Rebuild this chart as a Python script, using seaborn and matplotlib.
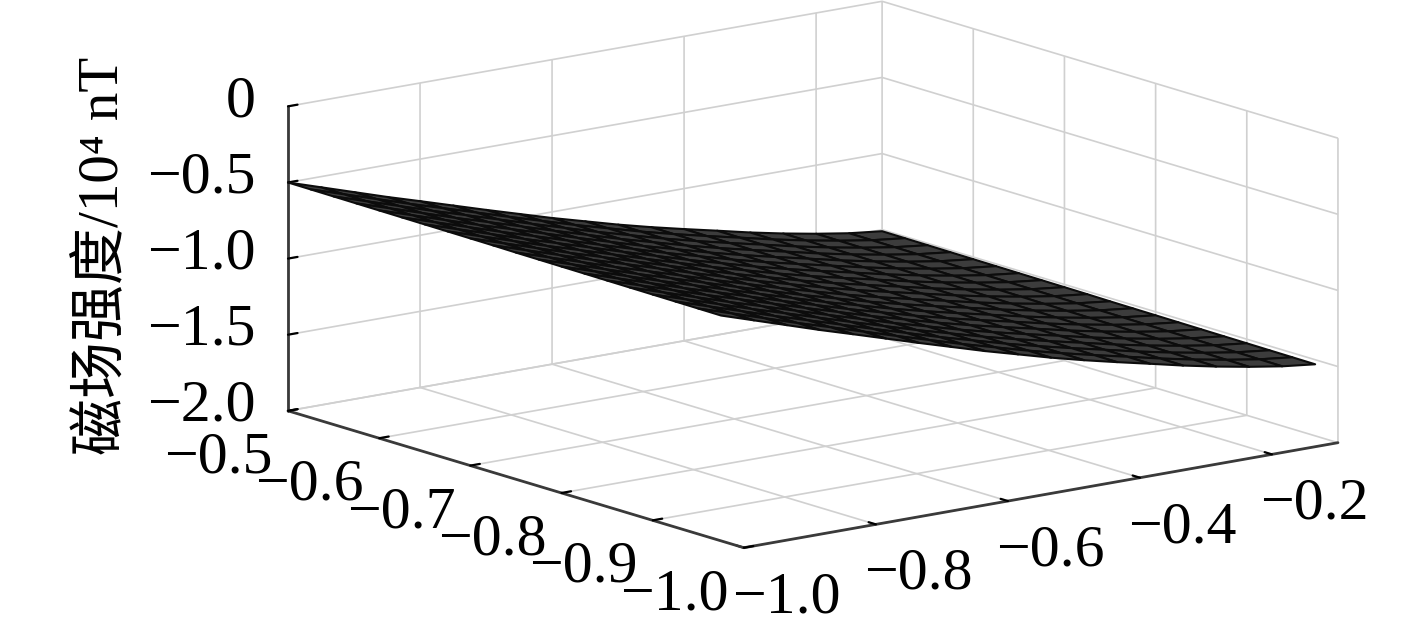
import numpy as np
import matplotlib
matplotlib.use("Agg")
import matplotlib.pyplot as plt
from matplotlib.transforms import Affine2D
import seaborn as sns

a_values = [-0.5, -0.525, -0.55, -0.575, -0.6, -0.625, -0.65, -0.675, -0.7, -0.725,
            -0.75, -0.775, -0.8, -0.825, -0.85, -0.875, -0.9, -0.925, -0.95, -0.975]
b_values = [-1.0, -0.95, -0.9, -0.85, -0.8, -0.75, -0.7, -0.65, -0.6, -0.55,
            -0.5, -0.45, -0.4, -0.35, -0.3, -0.25, -0.2, -0.15, -0.1]
field = [
 [-.500,-.570,-.640,-.710,-.776,-.843,-.910,-.975,-1.040,-1.100,-1.160,-1.215,-1.266,-1.315,-1.365,-1.410,-1.450,-1.485,-1.510],
 [-.501,-.571,-.641,-.711,-.777,-.844,-.911,-.976,-1.041,-1.101,-1.161,-1.216,-1.267,-1.316,-1.366,-1.411,-1.451,-1.486,-1.511],
 [-.502,-.572,-.642,-.712,-.778,-.845,-.912,-.977,-1.042,-1.102,-1.162,-1.217,-1.268,-1.317,-1.367,-1.412,-1.452,-1.487,-1.512],
 [-.503,-.573,-.643,-.713,-.779,-.846,-.913,-.978,-1.043,-1.103,-1.163,-1.218,-1.269,-1.318,-1.368,-1.413,-1.453,-1.488,-1.513],
 [-.504,-.574,-.644,-.714,-.780,-.847,-.914,-.979,-1.044,-1.104,-1.164,-1.219,-1.270,-1.319,-1.369,-1.414,-1.454,-1.489,-1.514],
 [-.505,-.575,-.645,-.715,-.781,-.848,-.915,-.980,-1.045,-1.105,-1.165,-1.220,-1.271,-1.320,-1.370,-1.415,-1.455,-1.490,-1.515],
 [-.506,-.576,-.646,-.716,-.782,-.849,-.916,-.981,-1.046,-1.106,-1.166,-1.221,-1.272,-1.321,-1.371,-1.416,-1.456,-1.491,-1.516],
 [-.507,-.577,-.647,-.717,-.783,-.850,-.917,-.982,-1.047,-1.107,-1.167,-1.222,-1.273,-1.322,-1.372,-1.417,-1.457,-1.492,-1.517],
 [-.508,-.578,-.648,-.718,-.784,-.851,-.918,-.983,-1.048,-1.108,-1.168,-1.223,-1.274,-1.323,-1.373,-1.418,-1.458,-1.493,-1.518],
 [-.509,-.579,-.649,-.719,-.785,-.852,-.919,-.984,-1.049,-1.109,-1.169,-1.224,-1.275,-1.324,-1.374,-1.419,-1.459,-1.494,-1.519],
 [-.511,-.581,-.651,-.721,-.787,-.854,-.921,-.986,-1.051,-1.111,-1.171,-1.226,-1.277,-1.326,-1.376,-1.421,-1.461,-1.496,-1.521],
 [-.512,-.582,-.652,-.722,-.788,-.855,-.922,-.987,-1.052,-1.112,-1.172,-1.227,-1.278,-1.327,-1.377,-1.422,-1.462,-1.497,-1.522],
 [-.513,-.583,-.653,-.723,-.789,-.856,-.923,-.988,-1.053,-1.113,-1.173,-1.228,-1.279,-1.328,-1.378,-1.423,-1.463,-1.498,-1.523],
 [-.514,-.584,-.654,-.724,-.790,-.857,-.924,-.989,-1.054,-1.114,-1.174,-1.229,-1.280,-1.329,-1.379,-1.424,-1.464,-1.499,-1.524],
 [-.515,-.585,-.655,-.725,-.791,-.858,-.925,-.990,-1.055,-1.115,-1.175,-1.230,-1.281,-1.330,-1.380,-1.425,-1.465,-1.500,-1.525],
 [-.516,-.586,-.656,-.726,-.792,-.859,-.926,-.991,-1.056,-1.116,-1.176,-1.231,-1.282,-1.331,-1.381,-1.426,-1.466,-1.501,-1.526],
 [-.517,-.587,-.657,-.727,-.793,-.860,-.927,-.992,-1.057,-1.117,-1.177,-1.232,-1.283,-1.332,-1.382,-1.427,-1.467,-1.502,-1.527],
 [-.518,-.588,-.658,-.728,-.794,-.861,-.928,-.993,-1.058,-1.118,-1.178,-1.233,-1.284,-1.333,-1.383,-1.428,-1.468,-1.503,-1.528],
 [-.519,-.589,-.659,-.729,-.795,-.862,-.929,-.994,-1.059,-1.119,-1.179,-1.234,-1.285,-1.334,-1.384,-1.429,-1.469,-1.504,-1.529],
 [-.520,-.590,-.660,-.730,-.796,-.863,-.930,-.995,-1.060,-1.120,-1.180,-1.235,-1.286,-1.335,-1.385,-1.430,-1.470,-1.505,-1.530],
]
b_ticks = [-1.0, -0.8, -0.6, -0.4, -0.2]
b_labels = ["−1.0", "−0.8", "−0.6", "−0.4", "−0.2"]
a_ticks = [-1.0, -0.9, -0.8, -0.7, -0.6, -0.5]
a_labels = ["−1.0", "−0.9", "−0.8", "−0.7", "−0.6", "−0.5"]
z_ticks = [-2.0, -1.5, -1.0, -0.5, 0.0]
z_labels = ["−2.0", "−1.5", "−1.0", "−0.5", "0"]
y_title = "磁场强度/10⁴ nT"

sns.set_theme(style="white")
plt.rcParams["font.family"] = ["Liberation Serif", "Noto Sans CJK SC", "DejaVu Sans"]

W, H = 1417, 630
fig = plt.figure(figsize=(W / 100, H / 100), dpi=100, facecolor="white")
ax = fig.add_axes([262.5 / W, -195 / H, 1072 / W, 1072 / H], projection="3d", proj_type="ortho")
ax.patch.set_alpha(0)
ax.view_init(elev=13.32, azim=232.5)
ax.set_box_aspect((749, 749, 313))

B, A = np.meshgrid(b_values, a_values)
Z = np.array(field)
ax.plot_surface(B, A, Z, rstride=1, cstride=1, color="#3c3c3c", shade=False,
                edgecolor="#0c0c0c", linewidth=1.5, antialiased=True)

ax.set_xlim(-1.0, -0.1, view_margin=0)
ax.set_ylim(-1.0, -0.5, view_margin=0)
ax.set_zlim(-2.0, 0.0, view_margin=0)
ax.set_xticks(b_ticks, b_labels, fontsize=43)
ax.set_yticks(a_ticks, a_labels, fontsize=43)
ax.set_zticks(z_ticks, z_labels, fontsize=43)
ax.tick_params(axis="both", pad=16, colors="black")
ax.tick_params(axis="z", pad=16, colors="black")

for axis in (ax.xaxis, ax.yaxis, ax.zaxis):
    axis.set_pane_color((1, 1, 1, 0))
    axis.pane.set_edgecolor("#c4c4c4")
    axis.pane.set_linewidth(1.2)
    axis.line.set_color("#3a3a3a")
    axis.line.set_linewidth(2.0)
    axis._axinfo["grid"].update(color="#d0d0d0", linewidth=1.2, linestyle="-")
    axis._axinfo["tick"].update(inward_factor=0.0, outward_factor=0.2,
                                linewidth={True: 1.6, False: 1.0}, color="#3a3a3a")
ax.grid(True)


def shift_labels(axis, dx, dy, ha="center"):
    """Nudge the native tick labels by a fixed pixel offset."""
    for tick in axis.get_major_ticks():
        lab = tick.label1
        lab.set_ha(ha)
        lab.set_transform(ax.transData + Affine2D().translate(dx, dy))
        lab.set_transform = lambda _t: None


shift_labels(ax.xaxis, 15, 3)
shift_labels(ax.yaxis, -34, 4)
shift_labels(ax.zaxis, 30, 29, ha="right")

fig.text(104 / W, 1 - 256 / H, y_title, rotation=90, ha="center", va="center", fontsize=41, color="black")
fig.savefig("out.png", dpi=100, facecolor="white")
